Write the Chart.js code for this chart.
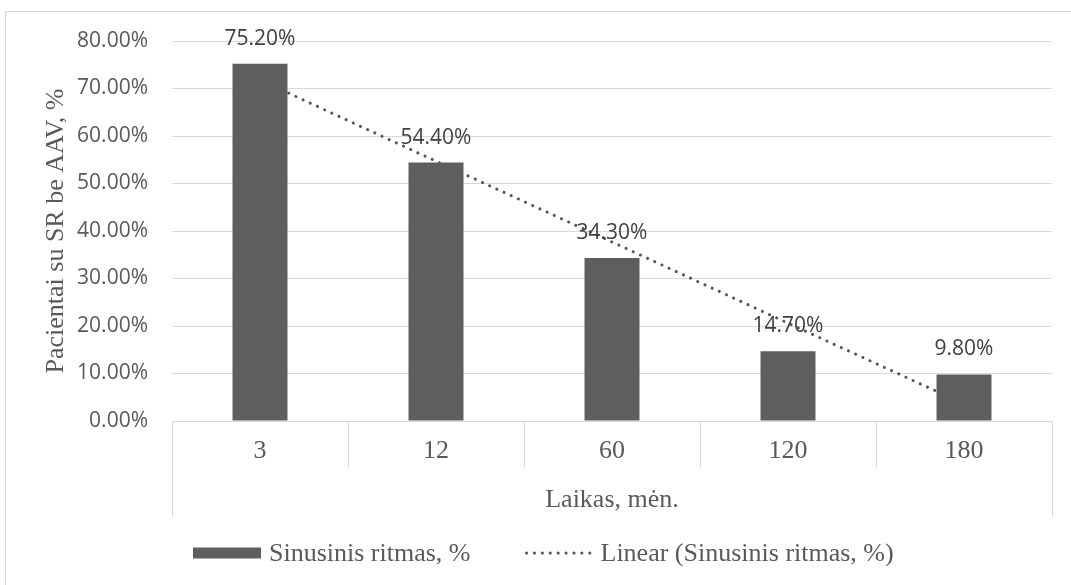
<!DOCTYPE html>
<html>
<head>
<meta charset="utf-8">
<script src="https://cdn.jsdelivr.net/npm/chart.js@4/dist/chart.umd.min.js"></script>
<style>
  html, body { margin: 0; padding: 0; background: #ffffff; }
  #wrap { position: relative; width: 1071px; height: 585px; }
</style>
</head>
<body>
<div id="wrap"><canvas id="c" width="1071" height="585"></canvas></div>
<script>
// Follow-up period in months
const categories = ['3', '12', '60', '120', '180'];
// Share of patients in sinus rhythm without antiarrhythmics, %
const sinusValues = [75.2, 54.4, 34.3, 14.7, 9.8];
// Linear trend of the same series, %
const trendValues = [71.8, 54.7, 37.7, 20.6, 3.6];
// Value axis ticks, %
const yTicks = [0, 10, 20, 30, 40, 50, 60, 70, 80];

const seriesLabel = 'Sinusinis ritmas, %';
const trendLabel = 'Linear (Sinusinis ritmas, %)';
const yTitle = 'Pacientai su SR be AAV, %';
const xTitle = 'Laikas, mėn.';

const SANS = '"Open Sans", "Noto Sans", sans-serif';
const SERIF = '"Liberation Serif", "DejaVu Serif", serif';
const GRID = '#d9d9d9';
const BAR = '#5e5e5e';

// Frame, white background
const framePlugin = {
  id: 'frame',
  beforeDraw(chart) {
    const ctx = chart.ctx;
    ctx.save();
    ctx.fillStyle = '#ffffff';
    ctx.fillRect(0, 0, chart.width, chart.height);
    ctx.strokeStyle = GRID;
    ctx.lineWidth = 1;
    ctx.strokeRect(5.5, 11.5, chart.width + 10, chart.height + 10);
    ctx.restore();
  }
};

// Category box below the plot: dividers between categories and the outer sides
const categoryBoxPlugin = {
  id: 'categoryBox',
  afterDraw(chart) {
    const x = chart.scales.x;
    const area = chart.chartArea;
    const n = categories.length;
    const step = (x.getPixelForValue(1) - x.getPixelForValue(0));
    const ctx = chart.ctx;
    ctx.save();
    ctx.strokeStyle = GRID;
    ctx.lineWidth = 1;
    ctx.beginPath();
    for (let i = 0; i <= n; i++) {
      const px = Math.round(x.getPixelForValue(i) - step / 2) + 0.5;
      const outer = (i === 0 || i === n);
      ctx.moveTo(px, area.bottom);
      ctx.lineTo(px, outer ? x.bottom : area.bottom + 47);
    }
    ctx.stroke();
    ctx.restore();
  }
};

// Value labels above the bars
const valueLabelPlugin = {
  id: 'valueLabels',
  afterDatasetsDraw(chart) {
    const meta = chart.getDatasetMeta(0);
    const ctx = chart.ctx;
    ctx.save();
    ctx.font = '21px ' + SANS;
    ctx.fillStyle = '#404040';
    ctx.textAlign = 'center';
    ctx.textBaseline = 'middle';
    meta.data.forEach((bar, i) => {
      ctx.fillText(sinusValues[i].toFixed(2) + '%', bar.x, bar.y - 25);
    });
    ctx.restore();
  }
};

// Legend row drawn from the dataset styles
const legendPlugin = {
  id: 'rowLegend',
  afterDraw(chart) {
    const ctx = chart.ctx;
    const ds = chart.data.datasets;
    const boxW = 68, gapText = 8, gapItem = 54, cy = 553;
    ctx.save();
    ctx.font = '26px ' + SERIF;
    ctx.textBaseline = 'middle';
    const w0 = ctx.measureText(ds[0].label).width;
    let x = 193;
    ctx.fillStyle = ds[0].backgroundColor;
    ctx.fillRect(x, cy - 5.5, boxW, 11);
    x += boxW + gapText;
    ctx.fillStyle = '#595959';
    ctx.fillText(ds[0].label, x, cy + 1);
    x += w0 + gapItem;
    ctx.strokeStyle = ds[1].borderColor;
    ctx.lineWidth = ds[1].borderWidth;
    ctx.lineCap = ds[1].borderCapStyle;
    ctx.setLineDash(ds[1].borderDash);
    ctx.beginPath();
    ctx.moveTo(x + 2, cy);
    ctx.lineTo(x + boxW, cy);
    ctx.stroke();
    ctx.setLineDash([]);
    x += boxW + gapText;
    ctx.fillText(ds[1].label, x, cy + 1);
    ctx.restore();
  }
};

new Chart(document.getElementById('c'), {
  data: {
    labels: categories,
    datasets: [
      {
        type: 'bar',
        label: seriesLabel,
        data: sinusValues,
        backgroundColor: BAR,
        borderWidth: 0,
        barPercentage: 0.3125,
        categoryPercentage: 1,
        order: 1
      },
      {
        type: 'line',
        label: trendLabel,
        data: trendValues,
        borderColor: '#555555',
        borderWidth: 3,
        borderDash: [0.1, 7.8],
        borderCapStyle: 'round',
        pointRadius: 0,
        fill: false,
        tension: 0,
        order: 2
      }
    ]
  },
  options: {
    responsive: false,
    animation: false,
    events: [],
    layout: { padding: { top: 41, right: 19, bottom: 68, left: 0 } },
    plugins: {
      legend: { display: false },
      tooltip: { enabled: false },
      title: { display: false }
    },
    scales: {
      x: {
        type: 'category',
        offset: true,
        grid: { display: false, drawTicks: false },
        border: { display: false },
        ticks: {
          color: '#595959',
          font: { family: SERIF, size: 26 },
          padding: 15,
          maxRotation: 0,
          autoSkip: false
        },
        title: {
          display: true,
          text: xTitle,
          color: '#595959',
          font: { family: SERIF, size: 26 },
          padding: { top: 0, bottom: 1 }
        },
        afterFit(scale) { scale.height = 96; }
      },
      y: {
        type: 'linear',
        min: yTicks[0],
        max: yTicks[yTicks.length - 1],
        afterBuildTicks(scale) { scale.ticks = yTicks.map(v => ({ value: v })); },
        grid: { color: GRID, lineWidth: 1, drawTicks: false },
        border: { display: false },
        ticks: {
          color: '#595959',
          font: { family: SANS, size: 21 },
          padding: 24,
          callback: v => v.toFixed(2) + '%'
        },
        title: {
          display: true,
          text: yTitle,
          color: '#595959',
          font: { family: SERIF, size: 26 },
          padding: { top: 41, bottom: 0 }
        },
        afterFit(scale) { scale.width = 172; }
      }
    }
  },
  plugins: [framePlugin, categoryBoxPlugin, valueLabelPlugin, legendPlugin]
});
</script>
</body>
</html>
